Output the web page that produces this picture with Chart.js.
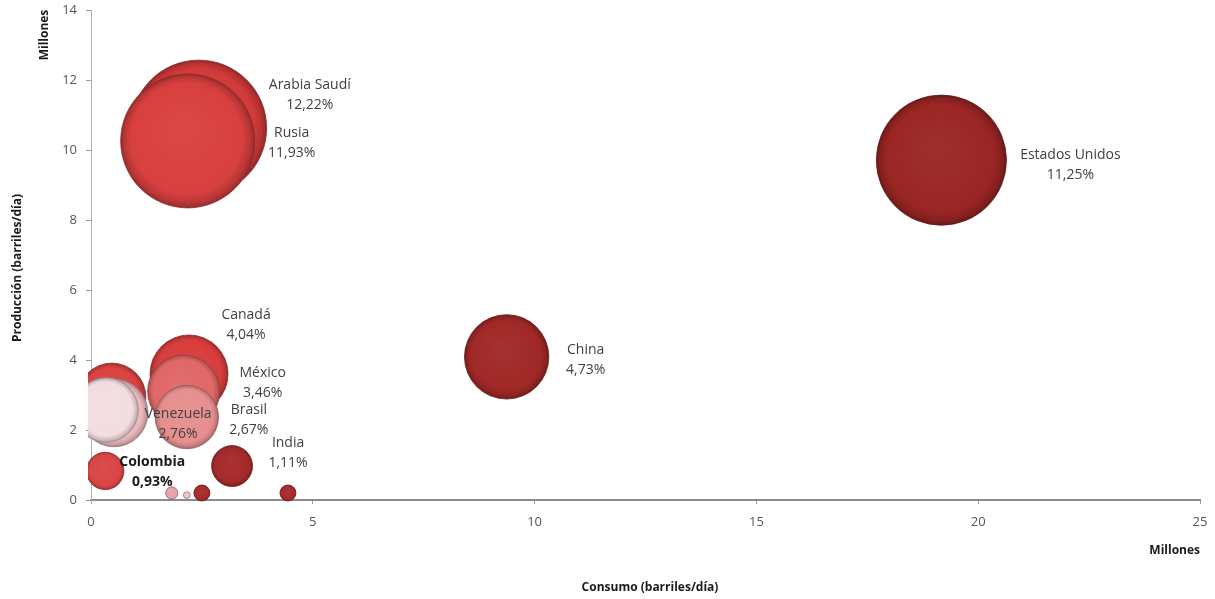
<!DOCTYPE html>
<html>
<head>
<meta charset="utf-8">
<script src="https://cdn.jsdelivr.net/npm/chart.js@4"></script>
<style>
  html, body { margin: 0; padding: 0; background: #fff; }
  #wrap { width: 1215px; height: 599px; }
</style>
</head>
<body>
<div id="wrap"><canvas id="bubbleChart" width="1215" height="599"></canvas></div>
<script>
// Datos: consumo (x, millones), producción (y, millones), cuota (%) -> tamaño
const countries = ['Arabia Saudí', 'Rusia', 'Estados Unidos', 'China', 'Canadá', 'México', '', '', 'Venezuela', 'Brasil', 'India', 'Colombia', '', '', '', ''];
const consumo    = [2.43, 2.18, 19.17, 9.37, 2.21, 2.09, 0.47, 0.52, 0.34, 2.16, 3.18, 0.32, 1.82, 2.16, 2.50, 4.44];
const produccion = [10.63, 10.26, 9.71, 4.09, 3.60, 3.11, 2.94, 2.49, 2.57, 2.37, 0.97, 0.83, 0.20, 0.14, 0.20, 0.20];
const cuota      = [12.22, 11.93, 11.25, 4.73, 4.04, 3.46, 3.07, 3.05, 2.76, 2.67, 1.11, 0.93, 0.10, 0.03, 0.17, 0.17];
const cuotaTexto = ['12,22%', '11,93%', '11,25%', '4,73%', '4,04%', '3,46%', '', '', '2,76%', '2,67%', '1,11%', '0,93%', '', '', '', ''];
const xTicks = [0, 5, 10, 15, 20, 25];
const yTicks = [0, 2, 4, 6, 8, 10, 12, 14];

// colores de cada burbuja
const colores = ['#d33b3a', '#d8403f', '#9a2624', '#a02927', '#d83d3c', '#e06867', '#d94241', '#eeb9bd', '#f3dde0', '#e78f8f', '#a6292a', '#d94545', '#e9a3ab', '#f1c4c6', '#a92a2a', '#a92a2a'];

// posición del texto respecto al centro de la burbuja
const labelOffsets = [[111, -33], [104, 2], [129, 5], [79, 3], [57, -49], [79, -8], [0, 0], [0, 0], [72, 14], [62, 3], [56, -13], [47, 1]];

const RADIUS_K = 19.4;
const points = consumo.map((x, i) => ({ x: x, y: produccion[i], r: RADIUS_K * Math.sqrt(cuota[i]) }));

function shade(hex, f) {
    const n = parseInt(hex.slice(1), 16);
    let r = (n >> 16) & 255, g = (n >> 8) & 255, b = n & 255;
    if (f < 0) { r *= 1 + f; g *= 1 + f; b *= 1 + f; }
    else { r += (255 - r) * f; g += (255 - g) * f; b += (255 - b) * f; }
    return `rgb(${Math.round(r)},${Math.round(g)},${Math.round(b)})`;
}

function bubbleFill(c) {
    const base = colores[c.dataIndex];
    const chart = c.chart;
    if (!chart.scales.x || !chart.chartArea) return base;
    const p = points[c.dataIndex];
    const cx = chart.scales.x.getPixelForValue(p.x);
    const cy = chart.scales.y.getPixelForValue(p.y);
    const r = p.r;
    const g = chart.ctx.createRadialGradient(cx - r * 0.1, cy - r * 0.2, r * 0.05, cx, cy, r);
    g.addColorStop(0, shade(base, 0.04));
    g.addColorStop(0.82, base);
    g.addColorStop(0.94, shade(base, -0.15));
    g.addColorStop(1, shade(base, -0.32));
    return g;
}

// etiquetas de texto al lado de las burbujas
const labelPlugin = {
    id: 'bubbleLabels',
    afterDatasetsDraw(chart) {
        const ctx = chart.ctx;
        const xs = chart.scales.x, ys = chart.scales.y;
        ctx.save();
        ctx.textAlign = 'center';
        ctx.textBaseline = 'middle';
        countries.forEach((name, i) => {
            if (!name) return;
            const cx = xs.getPixelForValue(points[i].x) + labelOffsets[i][0];
            const cy = ys.getPixelForValue(points[i].y) + labelOffsets[i][1];
            const bold = name === 'Colombia';
            ctx.font = (bold ? 'bold ' : '') + '14px "Open Sans"';
            ctx.fillStyle = bold ? '#1a1a1a' : '#404040';
            ctx.fillText(name, cx, cy - 10);
            ctx.fillText(cuotaTexto[i], cx, cy + 10);
        });
        ctx.restore();
    }
};

// títulos de ejes
const titlesPlugin = {
    id: 'axisTitles',
    afterDraw(chart) {
        const ctx = chart.ctx;
        const area = chart.chartArea;
        ctx.save();
        ctx.fillStyle = '#1a1a1a';
        ctx.font = 'bold 12px "Open Sans"';
        ctx.textBaseline = 'middle';

        ctx.textAlign = 'center';
        ctx.fillText('Consumo (barriles/día)', 650, 588);
        ctx.textAlign = 'right';
        ctx.fillText('Millones', area.right, 551);

        ctx.textAlign = 'center';
        ctx.translate(18, 268);
        ctx.rotate(-Math.PI / 2);
        ctx.fillText('Producción (barriles/día)', 0, 0);
        ctx.restore();

        ctx.save();
        ctx.fillStyle = '#1a1a1a';
        ctx.font = 'bold 12px "Open Sans"';
        ctx.textAlign = 'center';
        ctx.textBaseline = 'middle';
        ctx.translate(45, 35);
        ctx.rotate(-Math.PI / 2);
        ctx.fillText('Millones', 0, 0);
        ctx.restore();
    }
};

const ctx = document.getElementById('bubbleChart').getContext('2d');
new Chart(ctx, {
    type: 'bubble',
    data: {
        labels: countries,
        datasets: [{
            data: points,
            backgroundColor: bubbleFill,
            borderColor: colores.map(c => shade(c, -0.35)),
            borderWidth: 0.8,
            clip: { left: 3, top: false, right: false, bottom: 4 }
        }]
    },
    options: {
        responsive: false,
        animation: false,
        layout: { autoPadding: false, padding: { top: 10, right: 15, left: 0, bottom: 0 } },
        plugins: {
            legend: { display: false },
            tooltip: { enabled: false }
        },
        scales: {
            x: {
                type: 'linear',
                min: 0,
                max: 25,
                afterBuildTicks: s => { s.ticks = xTicks.map(v => ({ value: v })); },
                afterFit: s => { s.height = 99; s.paddingLeft = 0; s.paddingRight = 0; },
                border: { color: '#8c8c8c', width: 2 },
                grid: { drawOnChartArea: false, drawTicks: true, tickLength: 4, color: '#9a9a9a' },
                ticks: { color: '#555', padding: 10, font: { family: 'Open Sans', size: 13 } }
            },
            y: {
                min: 0,
                max: 14,
                afterBuildTicks: s => { s.ticks = yTicks.map(v => ({ value: v })); },
                afterFit: s => { s.width = 91; s.paddingTop = 0; s.paddingBottom = 0; },
                border: { color: '#b0b0b0', width: 1 },
                grid: { drawOnChartArea: false, drawTicks: true, tickLength: 5, color: '#9a9a9a' },
                ticks: { color: '#555', padding: 9, font: { family: 'Open Sans', size: 13 } }
            }
        }
    },
    plugins: [labelPlugin, titlesPlugin]
});
</script>
</body>
</html>
